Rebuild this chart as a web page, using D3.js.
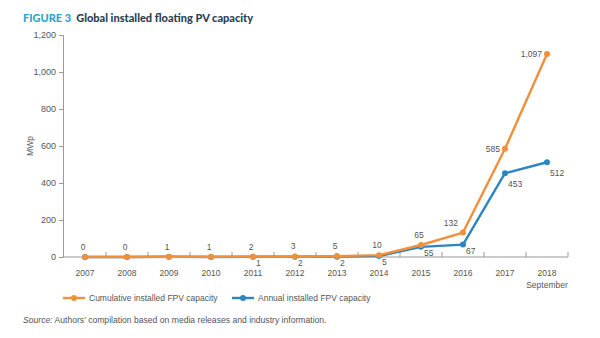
<!DOCTYPE html>
<html>
<head>
<meta charset="utf-8">
<script src="https://cdn.jsdelivr.net/npm/d3@7"></script>
<style>
  body { margin: 0; background: #fff; }
  svg text { font-family: "Liberation Sans", Arial, sans-serif; }
</style>
</head>
<body>
<svg id="chart" width="600" height="338"></svg>
<script>
// data
var years = ["2007", "2008", "2009", "2010", "2011", "2012", "2013", "2014", "2015", "2016", "2017", "2018"];
var cumulative = [0, 0, 1, 1, 2, 3, 5, 10, 65, 132, 585, 1097];
var annual = [0, 0, 1, 0, 1, 2, 2, 5, 55, 67, 453, 512];
var yTicks = [0, 200, 400, 600, 800, 1000, 1200];

var orange = "#f0903b", blue = "#2b86c1", grey = "#555";

var svg = d3.select("#chart");

var x = d3.scaleBand().domain(years).range([64, 568]);
var y = d3.scaleLinear().domain([0, 1200]).range([257, 35]);
var cx = function (d, i) { return x(years[i]) + x.bandwidth() / 2; };

// title
var title = svg.append("text")
    .attr("x", 23).attr("y", 22)
    .style("font-family", "Lato, 'Open Sans', sans-serif")
    .style("font-weight", "900").style("font-size", "11px");
title.append("tspan").attr("fill", "#2ea3cc").text("FIGURE 3");
title.append("tspan").attr("fill", "#2d3f52").attr("dx", 5).text("Global installed floating PV capacity");

// y axis
var yAxis = svg.append("g")
    .attr("transform", "translate(63,0)")
    .call(d3.axisLeft(y).tickValues(yTicks).tickSize(4).tickPadding(3).tickFormat(d3.format(",")));
yAxis.select(".domain").attr("stroke", "#999");
yAxis.selectAll(".tick line").attr("stroke", "#999");
yAxis.selectAll(".tick text").attr("fill", grey).style("font-size", "9px");

svg.append("text")
    .attr("transform", "translate(33,146) rotate(-90)")
    .attr("text-anchor", "middle")
    .attr("fill", grey).style("font-size", "8.5px")
    .text("MWp");

// x axis: baseline with ticks between the years
var xAxis = svg.append("g").attr("transform", "translate(0,257)");
xAxis.append("line").attr("x1", 63).attr("x2", 568).attr("stroke", "#999");
xAxis.selectAll(".sep").data(years).enter().append("line")
    .attr("x1", function (d) { return x(d) + x.bandwidth(); })
    .attr("x2", function (d) { return x(d) + x.bandwidth(); })
    .attr("y1", -5).attr("y2", 0)
    .attr("stroke", "#999");
xAxis.selectAll(".yr").data(years).enter().append("text")
    .attr("x", cx).attr("y", 19)
    .attr("text-anchor", "middle").attr("fill", grey).style("font-size", "8.5px")
    .text(function (d) { return d; });
xAxis.append("text")
    .attr("x", cx(null, years.length - 1)).attr("y", 31)
    .attr("text-anchor", "middle").attr("fill", grey).style("font-size", "8.5px")
    .text("September");

// series
var line = d3.line().x(cx).y(function (d) { return y(d); });

function drawSeries(values, color) {
    svg.append("path").datum(values)
        .attr("d", line).attr("fill", "none")
        .attr("stroke", color).attr("stroke-width", 2.4).attr("stroke-linejoin", "round");
    svg.append("g").selectAll("circle").data(values).enter().append("circle")
        .attr("cx", cx).attr("cy", function (d) { return y(d); })
        .attr("r", 3).attr("fill", color);
}
drawSeries(annual, blue);
drawSeries(cumulative, orange);

// value labels: cumulative above (left of the point on the steep part), annual below-right
svg.append("g").selectAll("text").data(cumulative).enter().append("text")
    .attr("x", function (d, i) { return i >= 9 ? cx(d, i) - 5 : cx(d, i) - 2; })
    .attr("y", function (d, i) { return i >= 10 ? y(d) + 3 : y(d) - 7; })
    .attr("text-anchor", function (d, i) { return i >= 9 ? "end" : "middle"; })
    .attr("fill", grey).style("font-size", "8.5px")
    .text(function (d) { return d3.format(",")(d); });

// annual labels only from 2011 on (earlier ones sit under the orange line)
var annualLabels = annual.map(function (v, i) { return { v: v, i: i }; })
    .filter(function (d) { return d.i >= 4; });
svg.append("g").selectAll("text").data(annualLabels).enter().append("text")
    .attr("x", function (d) { return cx(d, d.i) + 3; })
    .attr("y", function (d) { return d.v > 100 ? y(d.v) + 14 : y(d.v) + 9; })
    .attr("fill", grey).style("font-size", "8.5px")
    .text(function (d) { return d.v; });

// legend
var legendItems = [
    { label: "Cumulative installed FPV capacity", color: orange, x: 63 },
    { label: "Annual installed FPV capacity", color: blue, x: 232 }
];
var lg = svg.append("g").selectAll("g").data(legendItems).enter().append("g")
    .attr("transform", function (d) { return "translate(" + d.x + ",298)"; });
lg.append("line").attr("x1", 0).attr("x2", 22)
    .attr("stroke", function (d) { return d.color; }).attr("stroke-width", 2.4);
lg.append("circle").attr("cx", 11).attr("r", 3).attr("fill", function (d) { return d.color; });
lg.append("text").attr("x", 26).attr("y", 3)
    .attr("fill", grey).style("font-size", "8.5px")
    .text(function (d) { return d.label; });

// source note
var src = svg.append("text").attr("x", 23).attr("y", 323)
    .attr("fill", grey).style("font-size", "8.6px");
src.append("tspan").style("font-style", "italic").text("Source:");
src.append("tspan").text(" Authors\u2019 compilation based on media releases and industry information.");
</script>
</body>
</html>
